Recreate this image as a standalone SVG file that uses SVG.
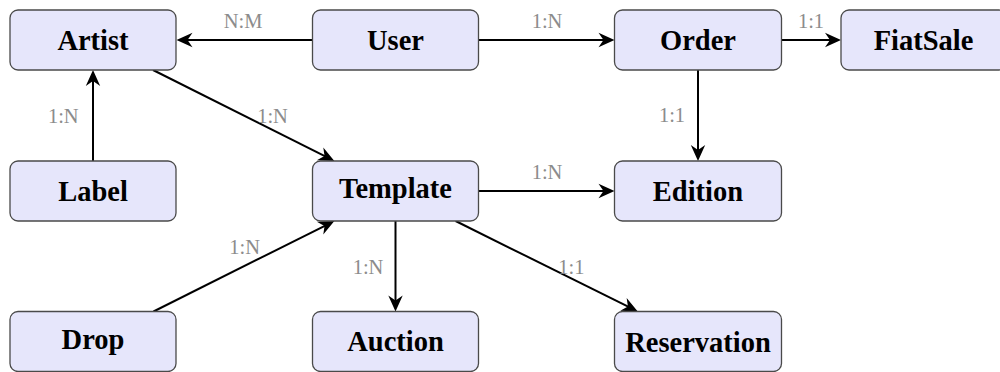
<svg xmlns="http://www.w3.org/2000/svg" width="1000" height="372" viewBox="0 0 1000 372">
  <style>
    .node rect { fill: #e6e6fb; stroke: #4a4a4a; stroke-width: 1.3; }
    .node text { font-family: "Liberation Serif", "Times New Roman", serif; font-weight: bold; font-size: 28.5px; fill: #000; text-anchor: middle; }
    .edge { stroke: #000; stroke-width: 2; fill: none; marker-end: url(#arrow); }
    .lbl { font-family: "Liberation Serif", "Times New Roman", serif; font-size: 20.5px; fill: #8c8c8c; text-anchor: middle; }
  </style>
  <defs>
    <marker id="arrow" markerUnits="userSpaceOnUse" markerWidth="20" markerHeight="18" viewBox="-18 -9 20 18" refX="-4" refY="0" orient="auto" overflow="visible">
      <path d="M0,0 L-16,-7.2 L-11,0 L-16,7.2 Z" fill="#000"/>
    </marker>
  </defs>

  <!-- connectors -->
  <g id="connectors">
    <line class="edge" x1="312.5" y1="40" x2="180.5" y2="40"/>
    <line class="edge" x1="478.5" y1="40" x2="610.5" y2="40"/>
    <line class="edge" x1="781.5" y1="40" x2="837" y2="40"/>
    <line class="edge" x1="93" y1="161" x2="93" y2="74"/>
    <line class="edge" x1="153" y1="70" x2="330.8" y2="159.2"/>
    <line class="edge" x1="698" y1="70" x2="698" y2="157"/>
    <line class="edge" x1="478.5" y1="191" x2="610.5" y2="191"/>
    <line class="edge" x1="153.5" y1="311.5" x2="330.8" y2="222.8"/>
    <line class="edge" x1="395.5" y1="221" x2="395.5" y2="307.5"/>
    <line class="edge" x1="455.6" y1="221" x2="634.2" y2="309.7"/>

    <text class="lbl" x="243" y="28.3">N:M</text>
    <text class="lbl" x="547" y="28.3">1:N</text>
    <text class="lbl" x="811" y="28.3">1:1</text>
    <text class="lbl" x="63.3" y="123">1:N</text>
    <text class="lbl" x="272.5" y="123">1:N</text>
    <text class="lbl" x="672" y="122">1:1</text>
    <text class="lbl" x="547" y="179">1:N</text>
    <text class="lbl" x="244.7" y="254.3">1:N</text>
    <text class="lbl" x="368" y="274">1:N</text>
    <text class="lbl" x="571.3" y="274">1:1</text>
  </g>

  <!-- nodes -->
  <g id="artist" class="node">
    <rect x="10" y="10" width="166" height="60" rx="8"/>
    <text x="93" y="50">Artist</text>
  </g>
  <g id="user" class="node">
    <rect x="312.5" y="10" width="166" height="60" rx="8"/>
    <text x="395.5" y="50">User</text>
  </g>
  <g id="order" class="node">
    <rect x="614.5" y="10" width="167" height="60" rx="8"/>
    <text x="698" y="50">Order</text>
  </g>
  <g id="fiatsale" class="node">
    <rect x="841" y="10" width="166" height="60" rx="8"/>
    <text x="923.5" y="50">FiatSale</text>
  </g>
  <g id="label" class="node">
    <rect x="10" y="161" width="166" height="60" rx="8"/>
    <text x="93" y="201">Label</text>
  </g>
  <g id="template" class="node">
    <rect x="312.5" y="161" width="166" height="60" rx="8"/>
    <text x="395.5" y="198.3">Template</text>
  </g>
  <g id="edition" class="node">
    <rect x="614.5" y="161" width="167" height="60" rx="8"/>
    <text x="698" y="201">Edition</text>
  </g>
  <g id="drop" class="node">
    <rect x="10" y="311.5" width="166" height="60" rx="8"/>
    <text x="93" y="348.5">Drop</text>
  </g>
  <g id="auction" class="node">
    <rect x="312.5" y="311.5" width="166" height="60" rx="8"/>
    <text x="395.5" y="351.3">Auction</text>
  </g>
  <g id="reservation" class="node">
    <rect x="614.5" y="311.5" width="167" height="60" rx="8"/>
    <text x="698" y="351.5">Reservation</text>
  </g>
</svg>
